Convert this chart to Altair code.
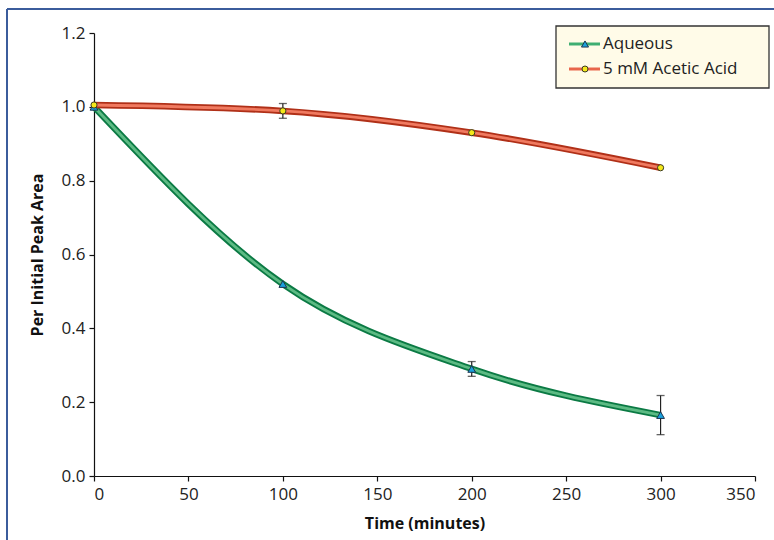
import altair as alt
import pandas as pd

# ---- data ----
times = [0, 100, 200, 300]
aqueous = [1.0, 0.52, 0.29, 0.165]
aqueous_err = [0.0, 0.0, 0.02, 0.053]
acetic = [1.005, 0.989, 0.93, 0.835]
acetic_err = [0.0, 0.02, 0.0, 0.0]
series_names = ["Aqueous", "5 mM Acetic Acid"]
x_ticks = [0, 50, 100, 150, 200, 250, 300, 350]
y_ticks = [0.0, 0.2, 0.4, 0.6, 0.8, 1.0, 1.2]

FONT = "Open Sans"

rows = []
for t, v, e in zip(times, aqueous, aqueous_err):
    rows.append({"t": t, "v": v, "lo": v - e, "hi": v + e, "s": series_names[0], "e": e})
for t, v, e in zip(times, acetic, acetic_err):
    rows.append({"t": t, "v": v, "lo": v - e, "hi": v + e, "s": series_names[1], "e": e})
df = pd.DataFrame(rows)
df_aq = df[df.s == series_names[0]]
df_ac = df[df.s == series_names[1]]
df_err = df[df.e > 0]

xs = alt.Scale(domain=[0, 350], nice=False, zero=False)
ys = alt.Scale(domain=[0, 1.2], nice=False)

X = alt.X("t:Q", scale=xs, title="Time (minutes)",
          axis=alt.Axis(values=x_ticks, format="d"))
Y = alt.Y("v:Q", scale=ys, title="Per Initial Peak Area",
          axis=alt.Axis(values=y_ticks, format=".1f"))

def curve(d, dark, light):
    base = alt.Chart(d).encode(x=X, y=Y)
    return (base.mark_line(interpolate="monotone", color=dark, strokeWidth=6.5)
            + base.mark_line(interpolate="monotone", color=light, strokeWidth=2.8))

aq_lines = curve(df_aq, "#0b7a44", "#5dbb84")
ac_lines = curve(df_ac, "#b03018", "#f07a60")

err_rule = alt.Chart(df_err).mark_rule(color="#222222", strokeWidth=1.2).encode(
    x="t:Q", y="lo:Q", y2="hi:Q")
err_cap_lo = alt.Chart(df_err).mark_tick(color="#222222", orient="horizontal",
                                         size=8, thickness=1.3).encode(x="t:Q", y="lo:Q")
err_cap_hi = alt.Chart(df_err).mark_tick(color="#222222", orient="horizontal",
                                         size=8, thickness=1.3).encode(x="t:Q", y="hi:Q")

aq_pts = alt.Chart(df_aq).mark_point(shape="triangle-up", filled=True, size=60,
                                     fill="#1aa0dc", stroke="#1c3550",
                                     strokeWidth=1, opacity=1).encode(x="t:Q", y="v:Q")
ac_pts = alt.Chart(df_ac).mark_point(shape="circle", filled=True, size=38,
                                     fill="#f4e81a", stroke="#3a3a20",
                                     strokeWidth=1, opacity=1).encode(x="t:Q", y="v:Q")

# ---- outer frame (top and left edges) ----
one = pd.DataFrame({"a": [0]})
frame_top = alt.Chart(one).mark_rule(color="#3b5c9c", strokeWidth=2).encode(
    x=alt.value(-87), x2=alt.value(680), y=alt.value(-24))
frame_left = alt.Chart(one).mark_rule(color="#3b5c9c", strokeWidth=2).encode(
    x=alt.value(-87), y=alt.value(-24), y2=alt.value(507))

# ---- legend ----
leg = pd.DataFrame({"s": series_names, "row": [0, 1]})
leg_box = alt.Chart(one).mark_rect(
    fill="#fffbe8", stroke="#333333", strokeWidth=1.3).encode(
    x=alt.value(462), x2=alt.value(675), y=alt.value(-7), y2=alt.value(55))
leg_aq_line = alt.Chart(leg[leg.row == 0]).mark_rule(color="#3fae72", strokeWidth=3).encode(
    x=alt.value(475), x2=alt.value(506), y=alt.value(11))
leg_ac_line = alt.Chart(leg[leg.row == 1]).mark_rule(color="#e8664c", strokeWidth=3).encode(
    x=alt.value(475), x2=alt.value(506), y=alt.value(36))
leg_aq_pt = alt.Chart(leg[leg.row == 0]).mark_point(shape="triangle-up", filled=True, size=50,
                                                    fill="#1aa0dc", stroke="#1c3550",
                                                    strokeWidth=1, opacity=1).encode(
    x=alt.value(491), y=alt.value(11))
leg_ac_pt = alt.Chart(leg[leg.row == 1]).mark_point(shape="circle", filled=True, size=36,
                                                    fill="#f4e81a", stroke="#3a3a20",
                                                    strokeWidth=1, opacity=1).encode(
    x=alt.value(491), y=alt.value(36))
leg_txt0 = alt.Chart(leg[leg.row == 0]).mark_text(
    align="left", baseline="middle", fontSize=17, font=FONT, color="#222222").encode(
    x=alt.value(509), y=alt.value(11), text="s:N")
leg_txt1 = alt.Chart(leg[leg.row == 1]).mark_text(
    align="left", baseline="middle", fontSize=17, font=FONT, color="#222222").encode(
    x=alt.value(509), y=alt.value(36), text="s:N")

chart = alt.layer(
    frame_top, frame_left, aq_lines, ac_lines, err_rule, err_cap_lo, err_cap_hi,
    aq_pts, ac_pts,
    leg_box, leg_aq_line, leg_ac_line, leg_aq_pt, leg_ac_pt, leg_txt0, leg_txt1
).properties(
    width=661, height=443,
    autosize=alt.AutoSizeParams(type="none"),
    padding={"left": 94, "top": 33, "right": 19, "bottom": 64},
    background="white",
).configure_view(stroke=None).configure_axis(
    domainColor="#111111", tickColor="#111111", labelColor="#222222",
    titleColor="#111111", labelFont=FONT, titleFont=FONT, grid=False,
    domainWidth=1.2, tickWidth=1.2, tickSize=5,
    labelFontSize=17, titleFontSize=16, titleFontWeight="bold",
).configure_axisX(
    labelPadding=5, titlePadding=13,
).configure_axisY(
    labelPadding=4, titlePadding=16,
)

chart.save("out.html", embed_options={"renderer": "svg", "actions": False})
